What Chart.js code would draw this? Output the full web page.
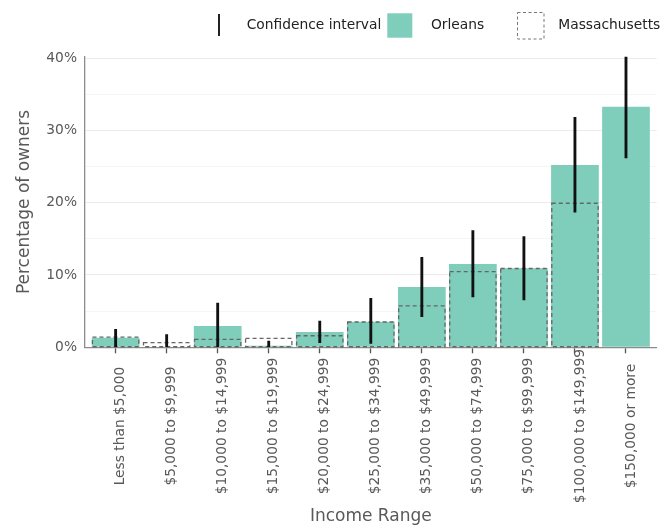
<!DOCTYPE html>
<html>
<head>
<meta charset="utf-8">
<script src="https://cdn.jsdelivr.net/npm/chart.js@4/dist/chart.umd.min.js"></script>
<style>
  html, body { margin: 0; padding: 0; background: #ffffff; }
  #wrap { width: 671px; height: 525px; position: relative; }
</style>
</head>
<body>
<div id="wrap"><canvas id="c" width="671" height="525"></canvas></div>
<script>
const categories = ['Less than $5,000', '$5,000 to $9,999', '$10,000 to $14,999', '$15,000 to $19,999',
  '$20,000 to $24,999', '$25,000 to $34,999', '$35,000 to $49,999', '$50,000 to $74,999',
  '$75,000 to $99,999', '$100,000 to $149,999', '$150,000 or more'];
const orleans = [1.33, 0, 2.95, 0.23, 2.1, 3.55, 8.34, 11.53, 10.93, 25.23, 33.26];
const massachusetts = [1.4, 0.64, 1.1, 1.24, 1.6, 3.5, 5.72, 10.47, 10.9, 19.93, null];
const ciLow = [0, 0, 0, 0, 0.64, 0.55, 4.24, 6.96, 6.55, 18.7, 26.2];
const ciHigh = [2.5, 1.75, 6.1, 0.87, 3.64, 6.78, 12.46, 16.14, 15.3, 31.8, 40.3];
const yTicks = [0, 5, 10, 15, 20, 25, 30, 35, 40];
const legendLabels = ['Confidence interval', 'Orleans', 'Massachusetts'];

const FONT = 'DejaVu Sans';
const GREEN = '#7fcdbb';

const dashedPlugin = {
  id: 'dashedMass',
  afterDatasetDraw(chart, args) {
    if (args.index !== 1) return;
    const ctx = chart.ctx;
    ctx.save();
    ctx.strokeStyle = '#666666';
    ctx.lineWidth = 1.3;
    ctx.setLineDash([4, 3]);
    args.meta.data.forEach((el, i) => {
      if (massachusetts[i] == null) return;
      const p = el.getProps(['x', 'y', 'base', 'width'], true);
      ctx.strokeRect(p.x - p.width / 2 + 0.7, p.y, p.width - 1.4, p.base - p.y);
    });
    ctx.restore();
  }
};

const labelsPlugin = {
  id: 'xLabels',
  afterDraw(chart) {
    const ctx = chart.ctx;
    const xs = chart.scales.x;
    ctx.save();
    ctx.font = '13.8px "' + FONT + '"';
    ctx.fillStyle = '#595959';
    ctx.textAlign = 'center';
    ctx.textBaseline = 'middle';
    categories.forEach((c, i) => {
      const px = xs.getPixelForValue(i) + 5;
      ctx.save();
      ctx.translate(px, 426);
      ctx.rotate(-Math.PI / 2);
      ctx.fillText(c, 0, 0);
      ctx.restore();
    });
    ctx.restore();
  }
};

const legendPlugin = {
  id: 'customLegend',
  afterDraw(chart) {
    const ctx = chart.ctx;
    ctx.save();
    ctx.strokeStyle = '#222';
    ctx.lineWidth = 2;
    ctx.beginPath();
    ctx.moveTo(219, 14);
    ctx.lineTo(219, 36);
    ctx.stroke();
    ctx.fillStyle = GREEN;
    ctx.fillRect(387.3, 13.3, 25, 24.4);
    ctx.strokeStyle = '#777';
    ctx.lineWidth = 1;
    ctx.setLineDash([3, 2.5]);
    ctx.strokeRect(517.5, 12.5, 26.5, 26.5);
    ctx.setLineDash([]);
    ctx.font = '13.8px "' + FONT + '"';
    ctx.fillStyle = '#222';
    ctx.textAlign = 'left';
    ctx.textBaseline = 'middle';
    ctx.fillText(legendLabels[0], 246.7, 25.5);
    ctx.fillText(legendLabels[1], 431, 25.5);
    ctx.fillText(legendLabels[2], 558.3, 25.5);
    ctx.restore();
  }
};

const idx = categories.map((_, i) => i);

new Chart(document.getElementById('c'), {
  type: 'bar',
  data: {
    datasets: [
      {
        label: 'Confidence interval',
        data: idx.map(i => ({ x: i, y: [ciLow[i], ciHigh[i]] })),
        backgroundColor: '#111',
        borderWidth: 0,
        barThickness: 2.2,
        grouped: false
      },
      {
        label: 'Massachusetts',
        data: idx.map(i => ({ x: i, y: massachusetts[i] })),
        backgroundColor: 'rgba(0,0,0,0)',
        borderWidth: 0,
        grouped: false,
        barPercentage: 0.935,
        categoryPercentage: 1
      },
      {
        label: 'Orleans',
        data: idx.map(i => ({ x: i, y: orleans[i] })),
        backgroundColor: GREEN,
        borderWidth: 0,
        grouped: false,
        barPercentage: 0.935,
        categoryPercentage: 1
      }
    ]
  },
  options: {
    responsive: false,
    animation: false,
    events: [],
    layout: { padding: { top: 56.7, right: 14.4, bottom: 0, left: 0 } },
    plugins: {
      legend: { display: false },
      tooltip: { enabled: false },
      title: { display: false }
    },
    scales: {
      x: {
        type: 'linear',
        offset: false,
        min: -0.6,
        max: 10.6,
        afterBuildTicks(scale) { scale.ticks = idx.map(v => ({ value: v })); },
        afterFit(scale) { scale.height = 177.7; },
        grid: {
          offset: false,
          drawOnChartArea: false,
          drawTicks: true,
          tickLength: 6,
          tickColor: '#555',
          tickWidth: 1.3
        },
        border: { display: true, color: '#8c8c8c', width: 1.3 },
        ticks: { display: false },
        title: {
          display: true,
          text: 'Income Range',
          color: '#595959',
          font: { family: FONT, size: 17, lineHeight: 1 },
          padding: { top: 0, bottom: 0 }
        }
      },
      y: {
        type: 'linear',
        min: 0,
        max: 40.2,
        afterBuildTicks(scale) { scale.ticks = yTicks.map(v => ({ value: v })); },
        afterFit(scale) { scale.width = 85; },
        grid: {
          drawTicks: false,
          color: (c) => (c.tick && c.tick.value % 10 === 0) ? '#ebebeb' : '#f5f5f5',
          lineWidth: 1.1
        },
        border: { display: true, color: '#8c8c8c', width: 1.3 },
        ticks: {
          padding: 8,
          color: '#595959',
          font: { family: FONT, size: 13.8 },
          callback: (v) => (v % 10 === 0) ? v + '%' : ''
        },
        title: {
          display: true,
          text: 'Percentage of owners',
          color: '#595959',
          font: { family: FONT, size: 17, lineHeight: 1 },
          padding: { top: 16.5, bottom: 0 }
        }
      }
    }
  },
  plugins: [dashedPlugin, labelsPlugin, legendPlugin]
});
</script>
</body>
</html>
